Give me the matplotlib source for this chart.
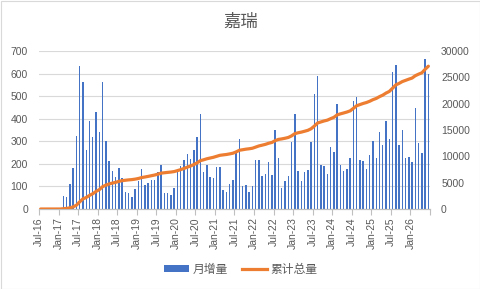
import numpy as np
import matplotlib
matplotlib.use("Agg")
import matplotlib.pyplot as plt
from matplotlib.patches import Rectangle, Patch
from matplotlib.lines import Line2D

plt.rcParams['font.family'] = ['Liberation Sans', 'Noto Sans CJK SC', 'DejaVu Sans']

title = "嘉瑞"
bar_label = "月增量"
line_label = "累计总量"

# Monthly increase, Jul-16 .. Jun-26 (120 months)
monthly = [
    0, 0, 0, 0, 0, 0, 0,
    58, 52, 111, 183, 325, 633, 562, 263, 392, 321, 428, 343, 562,
    302, 214, 169, 143, 183, 137, 76, 71, 53, 89, 122, 178, 107, 116, 129, 129, 165, 196, 71,
    71, 62, 94, 178, 192, 218, 245, 223, 263, 321, 423, 165, 196, 143, 138, 187, 187, 85, 76, 111,
    129, 250, 312, 102, 107, 76, 102, 218, 218, 147, 156, 209, 152, 348, 227, 94, 125, 147, 299,
    423, 169, 125, 165, 174, 299, 508, 588, 196, 192, 156, 276, 254, 464, 196, 169, 178, 227, 477, 495,
    218, 214, 178, 241, 303, 227, 343, 285, 392, 308, 606, 637, 285, 348, 227, 232, 210, 446, 294, 250, 664, 597,
]
cumulative = np.cumsum(monthly)

tick_labels = ["Jul-16", "Jan-17", "Jul-17", "Jan-18", "Jul-18", "Jan-19", "Jul-19",
               "Jan-20", "Jul-20", "Jan-21", "Jul-21", "Jan-22", "Jul-22", "Jan-23",
               "Jul-23", "Jan-24", "Jul-24", "Jan-25", "Jul-25", "Jan-26"]

W, H = 481, 289
fig = plt.figure(figsize=(W / 100, H / 100), dpi=100)
fig.patch.set_facecolor("white")

ax = fig.add_axes([39 / W, 1 - 209 / H, 391 / W, 158 / H])
ax2 = ax.twinx()

n = len(monthly)
x = np.arange(n)
blue = "#4472C4"
orange = "#ED7D31"
gray_txt = "#595959"
grid_c = "#D9D9D9"

ax.bar(x, monthly, width=0.45, color=blue, zorder=2)
ax2.plot(x, cumulative, color=orange, lw=2.3, solid_capstyle="round", zorder=3)

ax.set_xlim(-0.5, n - 0.5)
ax.set_ylim(0, 700)
ax.set_yticks(np.arange(0, 701, 100))
ax2.set_ylim(0, 30000)
ax2.set_yticks(np.arange(0, 30001, 5000))

ax.yaxis.grid(True, color=grid_c, lw=0.8, zorder=0)
ax.set_axisbelow(True)

tick_pos = [i - 0.5 for i in range(0, n + 1, 6)]
ax.set_xticks(tick_pos)
ax.set_xticklabels(tick_labels + [""] * (len(tick_pos) - len(tick_labels)),
                   rotation=90, fontsize=7.5, color=gray_txt)
ax.tick_params(axis="x", length=4, color="#BFBFBF", width=0.8, pad=2)
ax.tick_params(axis="y", length=0, pad=8, labelsize=7.5, labelcolor=gray_txt)
ax2.tick_params(axis="y", length=0, pad=8, labelsize=7.5, labelcolor=gray_txt)

for a in (ax, ax2):
    for s in ("top", "left", "right"):
        a.spines[s].set_visible(False)
    a.spines["bottom"].set_color("#BFBFBF")
    a.spines["bottom"].set_linewidth(0.8)

fig.text(0.5, 1 - 22 / H, title, ha="center", va="center", fontsize=12.5,
         color=gray_txt, family=['Noto Sans CJK SC', 'DejaVu Sans'])

handles = [Patch(facecolor=blue, edgecolor="none"),
           Line2D([0], [0], color=orange, lw=2.3)]
leg = fig.legend(handles, [bar_label, line_label], loc="center",
                 bbox_to_anchor=(0.5, 1 - 269 / H), ncol=2, frameon=False,
                 prop={'family': ['Noto Sans CJK SC', 'DejaVu Sans'], 'size': 8.5},
                 handlelength=2.1, handleheight=0.5, handletextpad=0.3,
                 columnspacing=1.2)
for t in leg.get_texts():
    t.set_color(gray_txt)

fig.patches.append(Rectangle((0.5 / W, 0.5 / H), 1 - 1 / W, 1 - 1 / H,
                             transform=fig.transFigure, fill=False,
                             edgecolor="#D9D9D9", lw=0.8))

fig.savefig("out.png", dpi=100)
